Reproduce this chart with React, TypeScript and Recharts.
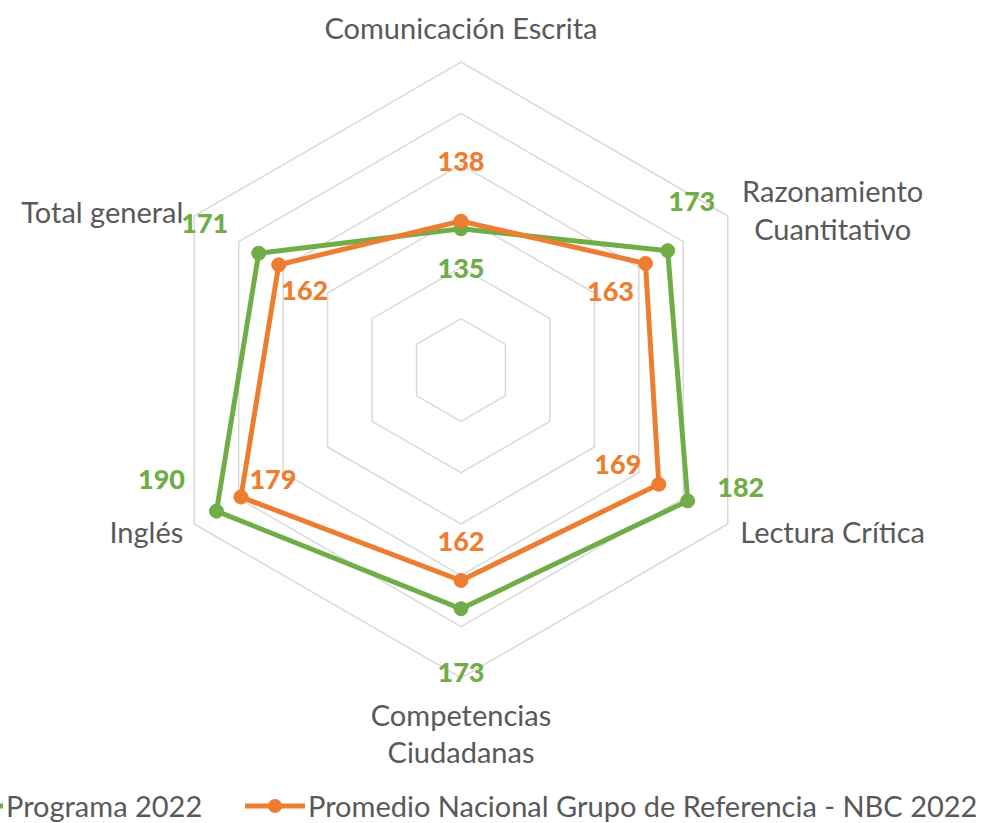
import {
  RadarChart,
  Radar,
  PolarGrid,
  PolarAngleAxis,
  PolarRadiusAxis,
  LabelList,
  Legend,
} from 'recharts';

const categories = [
  'Comunicación Escrita',
  'Razonamiento Cuantitativo',
  'Lectura Crítica',
  'Competencias Ciudadanas',
  'Inglés',
  'Total general',
];
const programa2022 = [135, 173, 182, 173, 190, 171];
const promedioNacional = [138, 163, 169, 162, 179, 162];
const radiusTicks = [80, 100, 120, 140, 160, 180, 200];

const GREEN = '#70AD47';
const ORANGE = '#ED7D31';
const TEXT = '#595959';
const FONT = 'Lato, "Open Sans", sans-serif';

const data = categories.map((name, i) => ({
  name,
  programa: programa2022[i],
  promedio: promedioNacional[i],
}));

// category label placement relative to the tick anchor
const tickLayout: Record<string, { lines: string[]; dx: number; dy: number[]; anchor: 'start' | 'middle' | 'end' }> = {
  'Comunicación Escrita': { lines: ['Comunicación Escrita'], dx: 0, dy: [-27], anchor: 'middle' },
  'Razonamiento Cuantitativo': { lines: ['Razonamiento', 'Cuantitativo'], dx: 98, dy: [-22, 16], anchor: 'middle' },
  'Lectura Crítica': { lines: ['Lectura Crítica'], dx: 98, dy: [3], anchor: 'middle' },
  'Competencias Ciudadanas': { lines: ['Competencias', 'Ciudadanas'], dx: 0, dy: [28, 65], anchor: 'middle' },
  'Inglés': { lines: ['Inglés'], dx: -4, dy: [3], anchor: 'end' },
  'Total general': { lines: ['Total general'], dx: -4, dy: [-1], anchor: 'end' },
};

// data label offsets from each point
const greenOffsets = [
  [0, 39], [24, -50], [53, -14], [0, 63], [-55, -33], [-54, -31],
];
const orangeOffsets = [
  [0, -61], [-35, 27], [-41, -21], [0, -40], [32, -19], [26, 25],
];

const AngleTick = (props: any) => {
  const { x, y, payload } = props;
  const cfg = tickLayout[payload.value];
  return (
    <g>
      {cfg.lines.map((line, i) => (
        <text
          key={line}
          x={x + cfg.dx}
          y={y + cfg.dy[i]}
          textAnchor={cfg.anchor}
          dominantBaseline="central"
          fill={TEXT}
          fontSize={29}
          fontFamily={FONT}
        >
          {line}
        </text>
      ))}
    </g>
  );
};

const makeLabel = (offsets: number[][], color: string) => (props: any) => {
  const { x, y, value, index } = props;
  const [dx, dy] = offsets[index];
  return (
    <text
      x={x + dx}
      y={y + dy}
      textAnchor="middle"
      dominantBaseline="central"
      fill={color}
      fontSize={27}
      fontWeight={900}
      fontFamily={FONT}
    >
      {value}
    </text>
  );
};

const LegendContent = (props: any) => {
  const items = props.payload || [];
  const lefts = [-57, 245];
  return (
    <div style={{ position: 'relative', height: 40, fontFamily: FONT, fontSize: 29, color: TEXT }}>
      {items.map((item: any, i: number) => (
        <div
          key={item.value}
          style={{ position: 'absolute', left: lefts[i], top: 0, display: 'flex', alignItems: 'center', whiteSpace: 'nowrap' }}
        >
          <svg width={60} height={20} style={{ marginRight: 3 }}>
            <line x1={0} y1={10} x2={60} y2={10} stroke={item.color} strokeWidth={5} />
            <circle cx={30} cy={10} r={7} fill={item.color} />
          </svg>
          <span>{item.value}</span>
        </div>
      ))}
    </div>
  );
};

export default function App() {
  return (
    <div style={{ position: 'relative', width: 987, height: 823, background: '#fff' }}>
      <style>{'body{margin:0}'}</style>
      <RadarChart width={987} height={823} data={data} cx={461} cy={370} outerRadius={308} margin={{ top: 0, right: 0, bottom: 0, left: 0 }}>
        <PolarGrid gridType="polygon" radialLines={false} stroke="#d9d9d9" strokeWidth={1.5} />
        <PolarAngleAxis dataKey="name" tick={AngleTick} tickLine={false} axisLine={false} />
        <PolarRadiusAxis domain={[80, 200]} ticks={radiusTicks} tick={false} axisLine={false} />
        <Radar
          name="Programa 2022"
          dataKey="programa"
          stroke={GREEN}
          strokeWidth={5}
          fill="none"
          dot={{ r: 7, fill: GREEN, fillOpacity: 1, stroke: GREEN, strokeWidth: 1 }}
          isAnimationActive={false}
        >
          <LabelList dataKey="programa" content={makeLabel(greenOffsets, GREEN)} />
        </Radar>
        <Radar
          name="Promedio Nacional Grupo de Referencia - NBC 2022"
          dataKey="promedio"
          stroke={ORANGE}
          strokeWidth={5}
          fill="none"
          dot={{ r: 7, fill: ORANGE, fillOpacity: 1, stroke: ORANGE, strokeWidth: 1 }}
          isAnimationActive={false}
        >
          <LabelList dataKey="promedio" content={makeLabel(orangeOffsets, ORANGE)} />
        </Radar>
        <Legend
          content={LegendContent}
          wrapperStyle={{ position: 'absolute', left: 0, top: 788, width: 987 }}
        />
      </RadarChart>
    </div>
  );
}
